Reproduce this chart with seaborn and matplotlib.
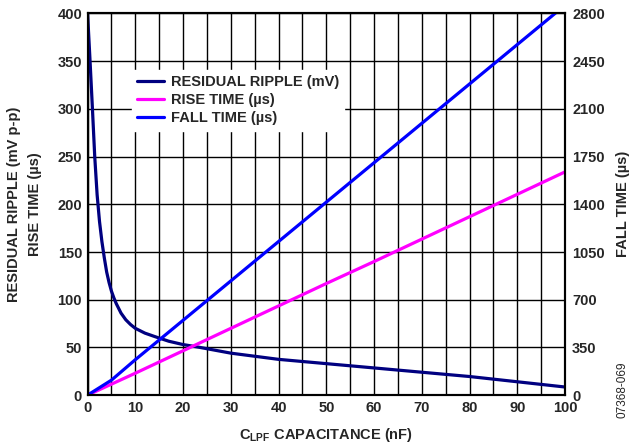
import numpy as np
import pandas as pd
import matplotlib
matplotlib.use("Agg")
import matplotlib.pyplot as plt
import seaborn as sns

# values
ripple_c = [0, 0.5, 1, 1.5, 2, 2.5, 3, 3.5, 4, 4.5, 5, 5.5, 6, 7, 8, 9, 10, 12, 14, 17,
            20, 23, 30, 40, 50, 60, 70, 80, 90, 100]
ripple_mv = [400, 352, 302, 250, 210, 182, 161, 144, 129, 118, 109, 102, 96, 86, 79, 74,
             70, 65, 61.5, 56.5, 53, 50.5, 44, 37.5, 33, 28.5, 24, 19.5, 14, 8.5]

rise_c = [0, 10, 20, 30, 40, 50, 60, 70, 80, 90, 100]
rise_us = [0, 23, 46.5, 70, 93.5, 117, 140, 163.5, 187, 210.5, 234]

fall_c = [0, 5, 10, 20, 30, 40, 50, 60, 70, 80, 90, 100]
fall_us = [0, 110, 260, 549, 838, 1127, 1416, 1705, 1994, 2283, 2572, 2861]

left_ticks = [0, 50, 100, 150, 200, 250, 300, 350, 400]
right_ticks = [0, 350, 700, 1050, 1400, 1750, 2100, 2450, 2800]
x_ticks = [0, 10, 20, 30, 40, 50, 60, 70, 80, 90, 100]

sns.set_style("white")
plt.rcParams['font.family'] = ['Liberation Sans', 'DejaVu Sans']
plt.rcParams['font.weight'] = 'bold'
plt.rcParams['mathtext.fontset'] = 'custom'
plt.rcParams['mathtext.rm'] = 'Liberation Sans:bold'
plt.rcParams['mathtext.bf'] = 'Liberation Sans:bold'

fs = 10.5
fig = plt.figure(figsize=(6.3, 4.48), dpi=100)
ax = fig.add_axes([0.139, 0.118, 0.758, 0.852])
ax2 = ax.twinx()

ripple_df = pd.DataFrame({"c": ripple_c, "v": ripple_mv})
rise_df = pd.DataFrame({"c": rise_c, "v": rise_us})
fall_df = pd.DataFrame({"c": fall_c, "v": fall_us})

sns.lineplot(data=ripple_df, x="c", y="v", ax=ax, color="#000080", lw=2.3,
             label="RESIDUAL RIPPLE (mV)", legend=False)
sns.lineplot(data=rise_df, x="c", y="v", ax=ax, color="#FF00FF", lw=2.3,
             label="RISE TIME (µs)", legend=False)
sns.lineplot(data=fall_df, x="c", y="v", ax=ax2, color="#0000FF", lw=2.3,
             label="FALL TIME (µs)", legend=False)

ax.set_xlim(0, 100)
ax.set_ylim(0, 400)
ax2.set_ylim(0, 2800)
ax.set_xticks(x_ticks)
ax.set_xticks(np.arange(0, 101, 5), minor=True)
ax.set_yticks(left_ticks)
ax2.set_yticks(right_ticks)
ax.grid(True, which="both", color="black", lw=1.0)
ax.tick_params(which="both", length=0, labelsize=fs, pad=4)
ax2.tick_params(length=0, labelsize=fs, pad=5)
for lab in ax.get_xticklabels() + ax.get_yticklabels() + ax2.get_yticklabels():
    lab.set_fontweight("bold")
for sp in list(ax.spines.values()) + list(ax2.spines.values()):
    sp.set_color("black")
    sp.set_linewidth(1.5)

ax.set_xlabel(r"C$_{\mathrm{LPF}}$ CAPACITANCE (nF)", fontsize=fs, fontweight="bold", labelpad=8)
ax.set_ylabel("RESIDUAL RIPPLE (mV p-p)\nRISE TIME (µs)", fontsize=fs, fontweight="bold",
              linespacing=1.6, labelpad=11)
ax2.set_ylabel("FALL TIME (µs)", fontsize=fs, fontweight="bold", labelpad=8)

h1, l1 = ax.get_legend_handles_labels()
h2, l2 = ax2.get_legend_handles_labels()
leg = ax2.legend(h1 + h2, l1 + l2, loc="upper left", bbox_to_anchor=(0.077, 0.872),
                 frameon=True, fancybox=False, framealpha=1, edgecolor="white",
                 fontsize=fs, handlelength=1.9, handletextpad=0.45, labelspacing=0.3,
                 borderpad=0.35)
for t in leg.get_texts():
    t.set_fontweight("bold")

fig.text(0.988, 0.067, "07368-069", rotation=90, fontsize=8.5, fontweight="normal",
         ha="center", va="bottom")

fig.savefig("out.png", dpi=100)
